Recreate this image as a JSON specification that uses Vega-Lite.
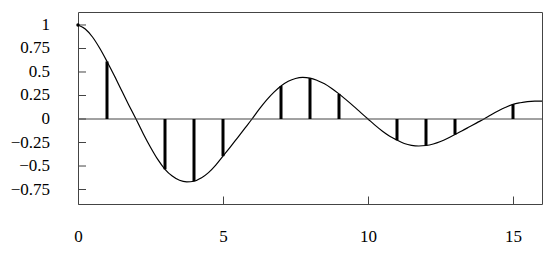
{
  "$schema": "https://vega.github.io/schema/vega-lite/v6.json",
  "width": 464,
  "height": 192,
  "autosize": {"type": "none"},
  "padding": {"left": 78, "top": 12, "right": 8, "bottom": 49},
  "background": "white",
  "config": {
    "view": {"stroke": "#444", "strokeWidth": 1},
    "font": "serif"
  },
  "datasets": {
    "curve": [
      {"x": 0, "y": 1.0}, {"x": 0.25, "y": 0.957}, {"x": 0.5, "y": 0.872}, {"x": 0.75, "y": 0.752},
      {"x": 1, "y": 0.612}, {"x": 1.25, "y": 0.462}, {"x": 1.5, "y": 0.305}, {"x": 1.75, "y": 0.15},
      {"x": 2, "y": 0.0}, {"x": 2.25, "y": -0.156}, {"x": 2.5, "y": -0.3}, {"x": 2.75, "y": -0.43},
      {"x": 3, "y": -0.535}, {"x": 3.25, "y": -0.607}, {"x": 3.5, "y": -0.652}, {"x": 3.75, "y": -0.668},
      {"x": 4, "y": -0.662}, {"x": 4.25, "y": -0.627}, {"x": 4.5, "y": -0.57}, {"x": 4.75, "y": -0.49},
      {"x": 5, "y": -0.395}, {"x": 5.25, "y": -0.3}, {"x": 5.5, "y": -0.2}, {"x": 5.75, "y": -0.1},
      {"x": 6, "y": 0.0}, {"x": 6.25, "y": 0.104}, {"x": 6.5, "y": 0.2}, {"x": 6.75, "y": 0.283},
      {"x": 7, "y": 0.351}, {"x": 7.25, "y": 0.401}, {"x": 7.5, "y": 0.431}, {"x": 7.75, "y": 0.442},
      {"x": 8, "y": 0.435}, {"x": 8.25, "y": 0.41}, {"x": 8.5, "y": 0.375}, {"x": 8.75, "y": 0.325},
      {"x": 9, "y": 0.267}, {"x": 9.25, "y": 0.203}, {"x": 9.5, "y": 0.137}, {"x": 9.75, "y": 0.068},
      {"x": 10, "y": 0.0}, {"x": 10.25, "y": -0.068}, {"x": 10.5, "y": -0.13}, {"x": 10.75, "y": -0.183},
      {"x": 11, "y": -0.225}, {"x": 11.25, "y": -0.26}, {"x": 11.5, "y": -0.28}, {"x": 11.75, "y": -0.287},
      {"x": 12, "y": -0.282}, {"x": 12.25, "y": -0.266}, {"x": 12.5, "y": -0.24}, {"x": 12.75, "y": -0.205},
      {"x": 13, "y": -0.165}, {"x": 13.25, "y": -0.125}, {"x": 13.5, "y": -0.083}, {"x": 13.75, "y": -0.041},
      {"x": 14, "y": 0.0}, {"x": 14.25, "y": 0.046}, {"x": 14.5, "y": 0.088}, {"x": 14.75, "y": 0.125},
      {"x": 15, "y": 0.156}, {"x": 15.25, "y": 0.173}, {"x": 15.5, "y": 0.185}, {"x": 15.75, "y": 0.19},
      {"x": 16, "y": 0.19}
    ],
    "stems": [
      {"n": 1, "v": 0.612, "z": 0}, {"n": 2, "v": 0.0, "z": 0}, {"n": 3, "v": -0.535, "z": 0}, {"n": 4, "v": -0.662, "z": 0},
      {"n": 5, "v": -0.395, "z": 0}, {"n": 6, "v": 0.0, "z": 0}, {"n": 7, "v": 0.351, "z": 0}, {"n": 8, "v": 0.435, "z": 0},
      {"n": 9, "v": 0.267, "z": 0}, {"n": 10, "v": 0.0, "z": 0}, {"n": 11, "v": -0.225, "z": 0}, {"n": 12, "v": -0.282, "z": 0},
      {"n": 13, "v": -0.165, "z": 0}, {"n": 14, "v": 0.0, "z": 0}, {"n": 15, "v": 0.156, "z": 0}
    ],
    "yticks": [
      {"t": 1, "lab": "1"}, {"t": 0.75, "lab": "0.75"}, {"t": 0.5, "lab": "0.5"}, {"t": 0.25, "lab": "0.25"},
      {"t": 0, "lab": "0"}, {"t": -0.25, "lab": "\u22120.25"}, {"t": -0.5, "lab": "\u22120.5"}, {"t": -0.75, "lab": "\u22120.75"}
    ],
    "origin": [{"x": 0, "y": 1}],
    "zero": [{"z": 0}]
  },
  "layer": [
    {
      "data": {"name": "curve"},
      "mark": {"type": "line", "color": "black", "strokeWidth": 1.2, "interpolate": "monotone"},
      "encoding": {
        "x": {
          "field": "x", "type": "quantitative",
          "scale": {"domain": [0, 16], "nice": false, "zero": false},
          "axis": {
            "values": [0, 5, 10, 15], "labelPadding": 24, "title": null,
            "ticks": true, "tickSize": 8, "tickWidth": 1, "tickColor": "#444",
            "offset": -8, "domain": false, "grid": false,
            "labelFont": "serif", "labelFontSize": 17, "labelColor": "black",
            "labelFlush": false, "labelOverlap": false
          }
        },
        "y": {
          "field": "y", "type": "quantitative",
          "scale": {"domain": [-0.904, 1.138], "nice": false, "zero": false},
          "axis": null
        }
      }
    },
    {
      "data": {"name": "zero"},
      "mark": {"type": "rule", "color": "#444", "strokeWidth": 1},
      "encoding": {"y": {"field": "z", "type": "quantitative"}}
    },
    {
      "data": {"name": "yticks"},
      "mark": {"type": "tick", "orient": "horizontal", "color": "#444", "size": 8, "thickness": 1, "xOffset": 4, "opacity": 1},
      "encoding": {
        "x": {"datum": 0, "type": "quantitative"},
        "y": {"field": "t", "type": "quantitative"}
      }
    },
    {
      "data": {"name": "yticks"},
      "mark": {"type": "text", "align": "right", "baseline": "middle", "dx": -28, "font": "serif", "fontSize": 17, "color": "black"},
      "encoding": {
        "x": {"datum": 0, "type": "quantitative"},
        "y": {"field": "t", "type": "quantitative"},
        "text": {"field": "lab"}
      }
    },
    {
      "data": {"name": "stems"},
      "mark": {"type": "rule", "color": "black", "strokeWidth": 3},
      "encoding": {
        "x": {"field": "n", "type": "quantitative"},
        "y": {"field": "v", "type": "quantitative"},
        "y2": {"field": "z"}
      }
    },
    {
      "data": {"name": "origin"},
      "mark": {"type": "circle", "color": "black", "size": 12, "opacity": 1},
      "encoding": {
        "x": {"field": "x", "type": "quantitative"},
        "y": {"field": "y", "type": "quantitative"}
      }
    }
  ]
}
